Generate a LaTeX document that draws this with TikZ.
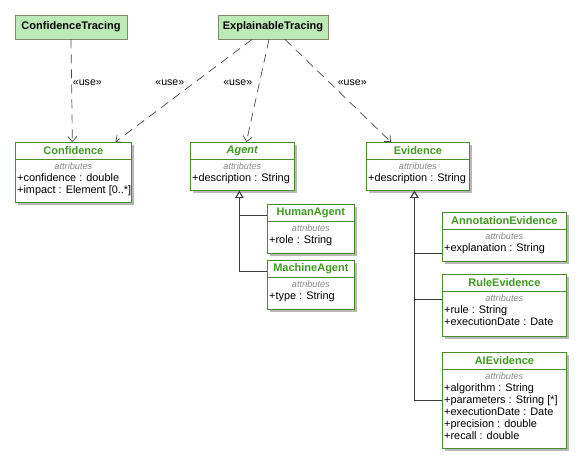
\documentclass[tikz,border=0pt]{standalone}
\usepackage{fontspec}
\setmainfont{Liberation Sans}
\usetikzlibrary{arrows.meta,positioning,calc}
\definecolor{clsc}{HTML}{4A8C2A}
\definecolor{titc}{HTML}{3F9A1F}
\definecolor{topc}{HTML}{BCEAB6}
\definecolor{topd}{HTML}{86866A}
\definecolor{shdc}{HTML}{B8B8B8}
\definecolor{depc}{HTML}{4A4A4A}
\definecolor{attc}{HTML}{8A8A8A}
\tikzset{
  topbox/.style={draw=topd,line width=0.8pt,fill=topc,minimum height=24pt,inner sep=0pt,font=\bfseries\fontsize{11}{12}\selectfont},
  clsbox/.style={draw=clsc,line width=0.8pt,fill=white,inner sep=0pt,anchor=north west},
  clstitle/.style={text=titc,inner sep=0pt,font=\bfseries\fontsize{11}{12}\selectfont},
  attlbl/.style={text=attc,inner sep=0pt,font=\itshape\fontsize{9.2}{11}\selectfont},
  attrow/.style={anchor=north west,align=left,inner sep=0pt,font=\fontsize{10.9}{12}\selectfont},
  dep/.style={draw=depc,line width=0.7pt,dash pattern=on 9pt off 6pt,-{Straight Barb[length=5pt,width=9pt]}},
  uselbl/.style={font=\fontsize{10.6}{12}\selectfont,inner sep=1pt},
  gen/.style={draw=depc!80!black,line width=0.8pt,-{Triangle[open,length=7pt,width=8pt]}},
}
\newcommand{\umlclass}[6]{%
  \fill[shdc] ($(#2)+(3,3)$) rectangle ++(#3,#4);
  \node[clsbox,minimum width=#3pt,minimum height=#4pt] (#1) at (#2) {};
  \draw[clsc,line width=0.8pt] ($(#1.north west)+(0,17)$) -- ($(#1.north east)+(0,17)$);
  \node[clstitle] (#1-t) at ($(#1.north)+(0,8.5)$) {#5};
  \node[attlbl] (#1-a) at ($(#1.north)+(0,24)$) {attributes};
  \node[attrow] (#1-r) at ($(#1.north west)+(2,31)$) {#6};}

\begin{document}
\begin{tikzpicture}[x=1pt,y=-1pt]
  \useasboundingbox (0,0) rectangle (580,463);
  \node[topbox,minimum width=112pt] (ct) at (71,27) {ConfidenceTracing};
  \node[topbox,minimum width=110pt] (et) at (273,27) {ExplainableTracing};
  \umlclass{conf}{15,142}{116}{60}{Confidence}{+confidence : double\\+impact : Element [0..*]}
  \umlclass{agent}{190,142}{104}{48}{\textit{Agent}}{+description : String}
  \umlclass{evid}{366,142}{103}{48}{Evidence}{+description : String}
  \umlclass{human}{267,204}{87}{49}{HumanAgent}{+role : String}
  \umlclass{machine}{267,260}{87}{49}{MachineAgent}{+type : String}
  \umlclass{annot}{442,212}{124}{49}{AnnotationEvidence}{+explanation : String}
  \umlclass{rule}{442,274}{124}{62}{RuleEvidence}{+rule : String\\+executionDate : Date}
  \umlclass{aiev}{442,352}{124}{96}{AIEvidence}{+algorithm : String\\+parameters : String [*]\\+executionDate : Date\\+precision : double\\+recall : double}
  \draw[dep] (ct.south) -- node[pos=0.42,right,uselbl]{«use»} ([xshift=-1pt]conf.north);
  \draw[dep] ([xshift=-21pt]et.south) -- node[pos=0.42,left=9pt,uselbl]{«use»} ([xshift=42pt]conf.north);
  \draw[dep] ([xshift=-4pt]et.south) -- node[pos=0.42,left=6pt,uselbl]{«use»} ([xshift=4pt]agent.north);
  \draw[dep] ([xshift=12pt]et.south) -- node[pos=0.42,right=7pt,uselbl]{«use»} ([xshift=-27pt]evid.north);
  \foreach \n in {human,machine} \draw[gen] ([yshift=13.5pt]\n.west) -| ([xshift=-3pt]agent.south);
  \foreach \n/\s in {annot/-16.5,rule/6,aiev/0} \draw[gen] ([yshift=\s pt]\n.west) -| ([xshift=-3.5pt]evid.south);
\end{tikzpicture}
\end{document}
